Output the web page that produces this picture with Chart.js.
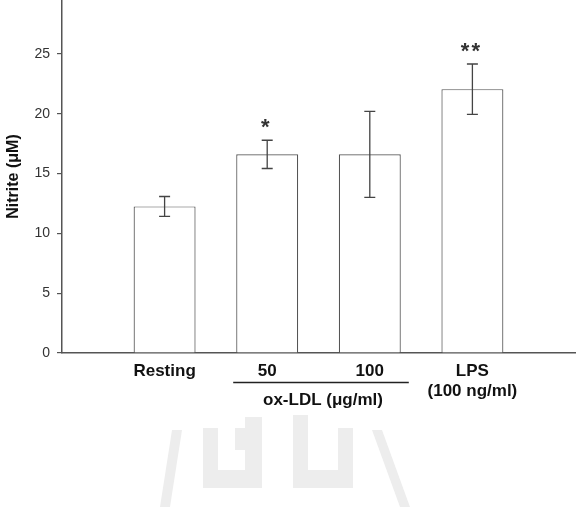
<!DOCTYPE html>
<html>
<head>
<meta charset="utf-8">
<title>Nitrite</title>
<script src="https://cdn.jsdelivr.net/npm/chart.js@4/dist/chart.umd.min.js"></script>
<style>
  body { margin: 0; background: #fff; }
  #wrap { width: 587px; height: 514px; }
</style>
</head>
<body>
<div id="wrap"><canvas id="nitriteChart" width="587" height="514"></canvas></div>
<script>
/* ---------- data ---------- */
const categories = ['', 'Resting', '50', '100', ['LPS', '(100 ng/ml)'], ''];
const nitrite    = [null, 12.25, 16.6, 16.6, 22.05, null];
const sem        = [null, 0.83, 1.18, 3.6, 2.1, null];
const signif     = ['', '', '*', '', '**', ''];
const yTicks     = [0, 5, 10, 15, 20, 25];
const groupLabel = 'ox-LDL (\u03bcg/ml)';

const axisColor = '#555';
const textColor = '#111';
const sans = '"Liberation Sans", Arial, sans-serif';

/* ---------- faint logo watermark ---------- */
const watermark = {
  id: 'watermark',
  beforeDraw(chart) {
    const c = chart.ctx;
    c.save();
    c.fillStyle = '#fff';
    c.fillRect(0, 0, chart.width, chart.height);
    c.fillStyle = '#ededed';
    // slashes
    c.beginPath();
    c.moveTo(172, 430); c.lineTo(182, 430); c.lineTo(170, 507); c.lineTo(160, 507);
    c.closePath(); c.fill();
    c.beginPath();
    c.moveTo(372, 430); c.lineTo(382, 430); c.lineTo(410, 507); c.lineTo(400, 507);
    c.closePath(); c.fill();
    // left glyph
    c.fillRect(203, 428, 15, 60);
    c.fillRect(203, 470, 59, 18);
    c.fillRect(245, 417, 17, 71);
    c.fillRect(235, 428, 10, 22);
    // right glyph
    c.fillRect(293, 415, 15, 73);
    c.fillRect(293, 470, 60, 18);
    c.fillRect(338, 428, 15, 60);
    c.restore();
  }
};

/* ---------- error bars, asterisks, ox-LDL bracket ---------- */
const extras = {
  id: 'extras',
  afterDatasetsDraw(chart) {
    const c = chart.ctx;
    const y = chart.scales.y;
    const x = chart.scales.x;
    const meta = chart.getDatasetMeta(0);
    c.save();
    c.strokeStyle = '#444';
    c.lineWidth = 1.3;
    meta.data.forEach((bar, i) => {
      if (nitrite[i] == null) return;
      const top = y.getPixelForValue(nitrite[i] + sem[i]);
      const bot = y.getPixelForValue(nitrite[i] - sem[i]);
      c.beginPath();
      c.moveTo(bar.x, top); c.lineTo(bar.x, bot);
      c.moveTo(bar.x - 5.5, top); c.lineTo(bar.x + 5.5, top);
      c.moveTo(bar.x - 5.5, bot); c.lineTo(bar.x + 5.5, bot);
      c.stroke();
      if (signif[i]) {
        c.fillStyle = '#333';
        c.font = 'bold 22px ' + sans;
        c.textAlign = 'center';
        c.textBaseline = 'middle';
        c.letterSpacing = '2px';
        c.fillText(signif[i], bar.x - 1, top - 12);
        c.letterSpacing = '0px';
      }
    });

    // group bracket under 50 / 100
    const x1 = x.getPixelForValue(2) - 34;
    const x2 = x.getPixelForValue(3) + 39;
    c.strokeStyle = '#222';
    c.lineWidth = 1.6;
    c.beginPath();
    c.moveTo(x1, 382.5); c.lineTo(x2, 382.5);
    c.stroke();
    c.fillStyle = textColor;
    c.font = 'bold 17px ' + sans;
    c.textAlign = 'center';
    c.textBaseline = 'middle';
    c.fillText(groupLabel, (x1 + x2) / 2 + 2, 400);
    c.restore();
  }
};

new Chart(document.getElementById('nitriteChart'), {
  type: 'bar',
  data: {
    labels: categories,
    datasets: [{
      data: nitrite,
      backgroundColor: '#fff',
      borderColor: axisColor,
      borderWidth: 1.2,
      categoryPercentage: 1,
      barPercentage: 0.604
    }]
  },
  options: {
    responsive: false,
    animation: false,
    layout: { padding: { left: 0, right: 12, top: 0, bottom: 0 } },
    plugins: { legend: { display: false }, tooltip: { enabled: false } },
    scales: {
      x: {
        offset: false,
        grid: { display: false, drawTicks: false, tickLength: 0 },
        border: { color: axisColor, width: 1.5 },
        ticks: {
          autoSkip: false, maxRotation: 0, padding: 8,
          color: textColor,
          font: { family: sans, size: 17, weight: 'bold' }
        },
        afterFit(s) { s.height = 161; s.paddingLeft = 0; s.paddingRight = 0; }
      },
      y: {
        min: 0,
        max: 29.5,
        afterBuildTicks(s) { s.ticks = yTicks.map(v => ({ value: v })); },
        grid: { drawOnChartArea: false, drawTicks: true, tickLength: 5, color: axisColor, lineWidth: 1.2 },
        border: { color: axisColor, width: 1.5 },
        ticks: { padding: 7, color: '#333', font: { family: sans, size: 14 } },
        title: {
          display: true,
          text: 'Nitrite (\u03bcM)',
          color: textColor,
          font: { family: sans, size: 16, weight: 'bold' },
          padding: { top: 4, bottom: 4 }
        },
        afterFit(s) { s.width = 62; s.paddingTop = 0; s.paddingBottom = 0; }
      }
    }
  },
  plugins: [watermark, extras]
});
</script>
</body>
</html>
